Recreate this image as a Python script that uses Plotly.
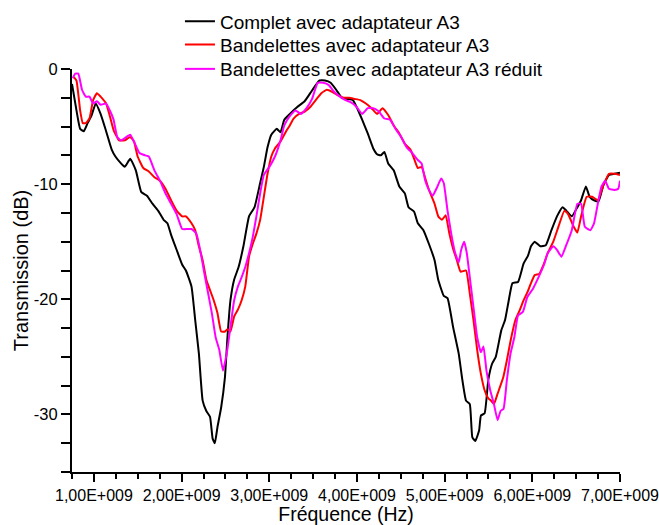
import plotly.graph_objects as go

# Frequencies in GHz, transmission in dB
freq_complet = [0.750, 0.801, 0.843, 0.885, 0.928, 0.970, 1.021, 1.076, 1.139, 1.203, 1.245, 1.309, 1.351, 1.414,
                1.478, 1.541, 1.605, 1.668, 1.732, 1.795, 1.838, 1.880, 1.943, 2.007, 2.049, 2.113, 2.155, 2.197,
                2.240, 2.282, 2.324, 2.354, 2.379, 2.409, 2.451, 2.494, 2.523, 2.557, 2.599, 2.650, 2.705, 2.769,
                2.832, 2.896, 2.938, 2.980, 3.023, 3.086, 3.128, 3.171, 3.234, 3.319, 3.403, 3.467, 3.530, 3.573,
                3.636, 3.700, 3.763, 3.827, 3.890, 3.954, 3.996, 4.059, 4.123, 4.186, 4.229, 4.271, 4.313, 4.356,
                4.419, 4.483, 4.546, 4.588, 4.652, 4.694, 4.758, 4.821, 4.885, 4.927, 4.990, 5.033, 5.096, 5.160,
                5.202, 5.244, 5.287, 5.316, 5.350, 5.393, 5.414, 5.456, 5.498, 5.541, 5.583, 5.646, 5.689, 5.731,
                5.773, 5.837, 5.900, 5.951, 5.985, 6.027, 6.091, 6.154, 6.218, 6.281, 6.345, 6.387, 6.450, 6.514,
                6.556, 6.611, 6.654, 6.704, 6.755, 6.810, 6.874, 6.937, 7.000]
db_complet = [-1.3, -3.6, -5.2, -5.4, -4.7, -4.1, -3.0, -3.9, -5.4, -7.0, -7.6, -8.2, -8.5, -7.8,
              -8.8, -10.7, -11.0, -11.7, -12.3, -13.1, -13.4, -14.4, -15.7, -17.0, -17.5, -18.9, -21.8, -24.7,
              -28.8, -29.7, -30.2, -32.1, -32.5, -31.1, -29.4, -26.8, -23.3, -20.1, -18.3, -17.2, -15.4, -12.8,
              -12.0, -9.9, -8.5, -6.8, -5.7, -5.2, -5.5, -4.4, -3.9, -3.3, -2.8, -2.1, -1.4, -1.0,
              -1.0, -1.2, -1.8, -2.5, -2.6, -2.7, -3.3, -4.4, -5.6, -6.9, -7.4, -7.5, -7.2, -8.2,
              -8.8, -10.2, -10.8, -12.0, -12.4, -13.4, -14.0, -15.2, -16.6, -18.3, -19.7, -19.9, -22.4, -24.7,
              -27.0, -28.8, -29.1, -32.0, -32.3, -31.4, -30.1, -29.9, -27.0, -25.6, -25.0, -22.7, -21.8, -20.1,
              -18.6, -18.5, -16.9, -16.2, -15.4, -15.0, -15.4, -15.3, -14.0, -12.8, -12.0, -12.3, -12.8, -12.0,
              -11.4, -10.2, -11.1, -11.4, -11.5, -10.1, -9.2, -9.1, -9.0]

freq_bandelettes = [0.771, 0.801, 0.843, 0.873, 0.907, 0.949, 0.991, 1.034, 1.076, 1.139, 1.182, 1.224, 1.287,
                    1.351, 1.414, 1.457, 1.499, 1.563, 1.626, 1.690, 1.753, 1.816, 1.880, 1.943, 2.007, 2.049,
                    2.113, 2.155, 2.197, 2.240, 2.282, 2.324, 2.367, 2.409, 2.451, 2.494, 2.523, 2.557, 2.599,
                    2.642, 2.684, 2.726, 2.769, 2.811, 2.853, 2.896, 2.938, 2.980, 3.023, 3.065, 3.128, 3.192,
                    3.234, 3.277, 3.340, 3.403, 3.467, 3.530, 3.594, 3.657, 3.721, 3.784, 3.848, 3.911, 3.975,
                    4.038, 4.102, 4.165, 4.229, 4.292, 4.356, 4.419, 4.483, 4.546, 4.610, 4.652, 4.694, 4.737,
                    4.779, 4.821, 4.885, 4.927, 4.969, 5.012, 5.054, 5.096, 5.139, 5.181, 5.244, 5.287, 5.329,
                    5.371, 5.414, 5.456, 5.498, 5.528, 5.562, 5.604, 5.668, 5.710, 5.752, 5.807, 5.859, 5.900,
                    5.943, 5.985, 6.027, 6.078, 6.133, 6.175, 6.239, 6.302, 6.366, 6.408, 6.472, 6.514, 6.556,
                    6.620, 6.683, 6.747, 6.810, 6.874, 6.937, 7.000]
db_bandelettes = [-0.7, -1.0, -3.6, -4.7, -4.7, -4.3, -2.7, -2.1, -2.4, -3.0, -4.1, -5.3, -6.2,
                  -6.2, -5.9, -6.3, -7.6, -8.6, -8.9, -9.4, -9.7, -10.4, -11.4, -12.3, -12.8, -12.8,
                  -13.4, -14.0, -15.4, -16.6, -18.3, -19.2, -20.1, -21.2, -22.8, -22.8, -22.6, -22.8, -21.5,
                  -20.9, -20.1, -18.9, -16.3, -15.2, -14.3, -13.1, -11.1, -9.1, -7.6, -6.9, -6.3, -5.4,
                  -4.9, -4.3, -3.9, -3.7, -3.3, -2.7, -2.1, -1.8, -2.0, -2.3, -2.5, -2.5, -2.6,
                  -2.7, -3.0, -3.4, -3.9, -3.4, -4.0, -4.9, -5.6, -6.5, -7.0, -7.8, -8.6, -8.5,
                  -9.5, -10.5, -11.7, -12.8, -13.1, -12.7, -14.3, -15.6, -16.6, -17.6, -17.5, -19.5, -21.8,
                  -24.4, -26.5, -27.9, -28.6, -28.8, -29.1, -28.2, -26.8, -25.3, -23.6, -21.8, -20.9, -20.1,
                  -19.4, -18.6, -17.9, -17.8, -16.9, -16.0, -15.0, -13.6, -12.3, -12.6, -13.7, -14.2, -12.8,
                  -11.1, -11.1, -11.4, -10.1, -9.1, -9.1, -9.2]

freq_reduit = [0.758, 0.788, 0.822, 0.864, 0.907, 0.949, 0.991, 1.034, 1.076, 1.139, 1.182, 1.224, 1.266,
               1.309, 1.372, 1.414, 1.457, 1.520, 1.584, 1.626, 1.690, 1.753, 1.816, 1.880, 1.943, 2.007,
               2.070, 2.113, 2.168, 2.219, 2.261, 2.303, 2.345, 2.388, 2.430, 2.472, 2.515, 2.557, 2.599,
               2.642, 2.684, 2.726, 2.769, 2.811, 2.853, 2.896, 2.938, 3.001, 3.065, 3.128, 3.171, 3.234,
               3.298, 3.361, 3.425, 3.488, 3.552, 3.615, 3.679, 3.742, 3.806, 3.869, 3.932, 3.996, 4.059,
               4.123, 4.186, 4.250, 4.313, 4.377, 4.440, 4.504, 4.567, 4.631, 4.694, 4.737, 4.779, 4.821,
               4.864, 4.906, 4.961, 4.990, 5.033, 5.075, 5.117, 5.160, 5.189, 5.223, 5.253, 5.287, 5.329,
               5.371, 5.414, 5.443, 5.477, 5.520, 5.562, 5.604, 5.638, 5.672, 5.710, 5.752, 5.795, 5.837,
               5.892, 5.943, 6.006, 6.070, 6.133, 6.175, 6.239, 6.281, 6.332, 6.387, 6.450, 6.514, 6.556,
               6.599, 6.662, 6.704, 6.747, 6.789, 6.831, 6.874, 6.937, 6.980, 7.000]
db_reduit = [-0.8, -0.4, -0.4, -1.8, -2.4, -2.4, -3.0, -2.8, -3.1, -3.0, -3.6, -4.4, -5.9,
             -6.2, -5.9, -5.7, -6.3, -7.3, -7.5, -7.6, -8.8, -9.7, -10.8, -11.7, -12.6, -13.9,
             -13.9, -13.9, -14.3, -16.0, -17.8, -19.5, -21.2, -23.3, -24.4, -26.2, -24.7, -22.4, -20.1,
             -18.9, -18.1, -17.2, -16.0, -14.6, -12.8, -10.8, -9.2, -8.5, -7.6, -6.2, -4.9, -4.1,
             -3.6, -3.9, -3.4, -2.6, -1.2, -1.2, -1.4, -2.0, -2.4, -2.7, -2.9, -3.3, -3.9,
             -3.4, -3.4, -3.7, -4.3, -4.4, -5.2, -5.9, -6.8, -7.3, -7.9, -8.2, -9.7, -10.5,
             -11.0, -10.4, -9.5, -9.9, -12.3, -14.3, -15.9, -16.8, -15.7, -15.0, -16.0, -18.1, -20.7,
             -23.3, -24.6, -24.1, -26.2, -27.9, -29.1, -30.5, -29.7, -29.5, -27.0, -24.7, -23.3, -21.4,
             -21.1, -19.8, -19.1, -18.1, -17.0, -16.0, -15.4, -15.7, -16.3, -15.3, -14.0, -11.7, -11.7,
             -13.7, -14.0, -13.4, -11.7, -10.2, -9.7, -10.4, -10.5, -10.4, -9.7]

series_names = ["Complet avec adaptateur A3",
                "Bandelettes avec adaptateur A3",
                "Bandelettes avec adaptateur A3 réduit"]
series_colors = ["#000000", "#FF0000", "#FF00FF"]

x_tick_values_ghz = [1, 2, 3, 4, 5, 6, 7]
x_tick_labels = ["1,00E+009", "2,00E+009", "3,00E+009", "4,00E+009",
                 "5,00E+009", "6,00E+009", "7,00E+009"]
y_tick_values = [-30, -20, -10, 0]
y_tick_labels = ["-30", "-20", "-10", "0"]

FONT = "Arial, 'Liberation Sans', sans-serif"
LEGEND_FONT = dict(family=FONT, size=19, color="black")

fig = go.Figure()
all_freqs = [freq_complet, freq_bandelettes, freq_reduit]
all_dbs = [db_complet, db_bandelettes, db_reduit]
legend_ids = ["legend", "legend2", "legend3"]
for name, color, fr, db, lg in zip(series_names, series_colors, all_freqs, all_dbs, legend_ids):
    fig.add_trace(go.Scatter(
        x=[f * 1e9 for f in fr], y=db, mode="lines", name=name, legend=lg,
        line=dict(color=color, width=2, shape="spline", smoothing=0.4),
    ))

legend_common = dict(x=0.197, xanchor="left", yanchor="top", font=LEGEND_FONT,
                     bgcolor="rgba(0,0,0,0)", borderwidth=0)

fig.update_layout(
    width=659, height=525,
    paper_bgcolor="white", plot_bgcolor="white",
    margin=dict(l=72, r=39, t=69, b=53, autoexpand=False),
    font=dict(family=FONT, color="black", size=16),
    showlegend=True,
    legend=dict(y=1.1653, **legend_common),
    legend2=dict(y=1.1074, **legend_common),
    legend3=dict(y=1.0471, **legend_common),
    xaxis=dict(
        range=[0.75e9, 7.0e9],
        tickmode="array",
        tickvals=[v * 1e9 for v in x_tick_values_ghz],
        ticktext=x_tick_labels,
        ticks="outside", ticklen=8, tickwidth=2, tickcolor="black",
        showline=True, linecolor="black", linewidth=2,
        showgrid=False, zeroline=False, automargin=False,
        ticklabeloverflow="allow",
        tickfont=dict(family=FONT, size=16),
        minor=dict(tickmode="linear", tick0=0.75e9, dtick=0.25e9, ticks="outside",
                   ticklen=5, tickwidth=2, tickcolor="black", showgrid=False),
        title=dict(text="Fréquence (Hz)", font=dict(family=FONT, size=19.5), standoff=3),
    ),
    yaxis=dict(
        range=[-35, 0],
        tickmode="array",
        tickvals=y_tick_values,
        ticktext=y_tick_labels,
        ticks="outside", ticklen=9, tickwidth=2, tickcolor="black",
        showline=True, linecolor="black", linewidth=2,
        showgrid=False, zeroline=False, automargin=False,
        ticklabeloverflow="allow",
        tickfont=dict(family=FONT, size=16.5),
        minor=dict(tickmode="linear", tick0=0, dtick=2.5, ticks="outside",
                   ticklen=9, tickwidth=2, tickcolor="black", showgrid=False),
        title=dict(text="Transmission (dB)", font=dict(family=FONT, size=20), standoff=0),
    ),
)

fig.write_html("out.html", config={"displayModeBar": False},
               post_script="document.body.style.margin='0px';")
